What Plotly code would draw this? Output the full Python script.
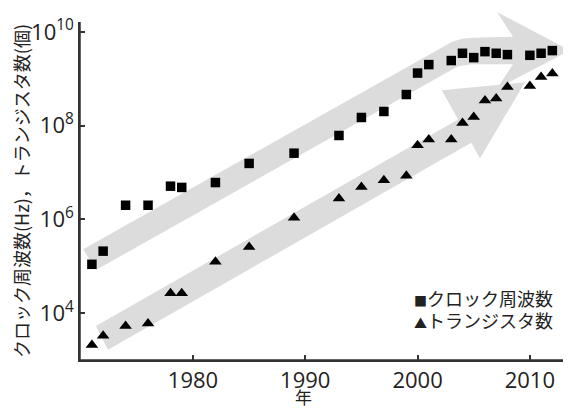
import plotly.graph_objects as go

# ---- data ----
clock_years = [1971, 1972, 1974, 1976, 1978, 1979, 1982, 1985, 1989, 1993, 1995, 1997,
               1999, 2000, 2001, 2003, 2004, 2005, 2006, 2007, 2008, 2010, 2011, 2012]
clock_hz = [1.1e5, 2.1e5, 2.0e6, 2.0e6, 5.1e6, 4.8e6, 6.1e6, 1.56e7, 2.58e7, 6.15e7, 1.49e8, 2.0e8,
            4.6e8, 1.32e9, 2.0e9, 2.44e9, 3.49e9, 2.82e9, 3.78e9, 3.49e9, 3.27e9, 3.16e9, 3.49e9, 3.98e9]

trans_years = [1971, 1972, 1974, 1976, 1978, 1979, 1982, 1985, 1989, 1993, 1995, 1997,
               1999, 2000, 2001, 2003, 2004, 2005, 2006, 2007, 2008, 2010, 2011, 2012]
trans_count = [2.1e3, 3.3e3, 5.3e3, 6.0e3, 2.65e4, 2.65e4, 1.24e5, 2.57e5, 1.08e6, 2.8e6, 4.9e6, 6.8e6,
               8.5e6, 3.83e7, 5.06e7, 5.06e7, 1.14e8, 1.53e8, 3.43e8, 3.78e8, 6.67e8, 7.0e8, 1.09e9, 1.29e9]

x_tick_vals = [1980, 1990, 2000, 2010]
x_tick_text = ["1980", "1990", "2000", "2010"]
y_tick_vals = [1e4, 1e6, 1e8, 1e10]
y_tick_text = ["10<sup>4</sup>", "10<sup>6</sup>", "10<sup>8</sup>", "10<sup>10</sup>"]

series_names = ["クロック周波数", "トランジスタ数"]
y_title = "クロック周波数(Hz)，トランジスタ数(個)"
x_title = "年"

# decorative trend arrows, vertices as (year, log10 value)
arrow_clock = [(1970.23, 5.361), (2003.04, 9.783), (2003.95, 9.851), (2004.84, 9.876),
               (2008.50, 9.898), (2007.07, 10.422), (2013.57, 9.606), (2007.07, 8.790),
               (2008.50, 9.308), (2004.84, 9.308), (2003.60, 9.265), (1971.36, 4.920)]
arrow_trans = [(1971.36, 3.727), (2003.61, 8.132), (2002.15, 8.754), (2009.56, 8.924),
               (2005.56, 7.306), (2004.78, 7.634), (1972.43, 3.216)]

X_RANGE = [1969.94, 2012.95]
Y_RANGE = [3.0, 10.21]  # log10 units

FONT = "Noto Sans CJK JP, Noto Sans, sans-serif"
TICK_FONT = "Open Sans, Noto Sans CJK JP, sans-serif"
INK = "#222222"
AXIS = "#333333"
ARROW_FILL = "#dcdcdc"


def arrow_path(pts):
    out = []
    for x, e in pts:
        px = (x - X_RANGE[0]) / (X_RANGE[1] - X_RANGE[0])
        py = (e - Y_RANGE[0]) / (Y_RANGE[1] - Y_RANGE[0])
        out.append(f"{px:.4f},{py:.4f}")
    return "M " + " L ".join(out) + " Z"


fig = go.Figure()
fig.add_trace(go.Scatter(x=clock_years, y=clock_hz, mode="markers", name=series_names[0],
                         marker=dict(symbol="square", size=9.5, color="#000000"),
                         showlegend=False))
fig.add_trace(go.Scatter(x=trans_years, y=trans_count, mode="markers", name=series_names[1],
                         marker=dict(symbol="triangle-up", size=11, color="#000000"),
                         showlegend=False))

shapes = []
for pts in (arrow_clock, arrow_trans):
    shapes.append(dict(type="path", xref="paper", yref="paper", path=arrow_path(pts),
                       fillcolor=ARROW_FILL, line=dict(width=0), layer="below"))
# axis lines (left and bottom)
shapes.append(dict(type="line", xref="paper", yref="paper", x0=0, x1=0, y0=0, y1=1,
                   line=dict(color=AXIS, width=1.5), layer="above"))
shapes.append(dict(type="line", xref="paper", yref="paper", x0=0, x1=1, y0=0, y1=0,
                   line=dict(color=AXIS, width=1.5), layer="above"))

annotations = [
    dict(xref="paper", yref="paper", x=0.9834, y=0.1849, xanchor="right", yanchor="middle",
         text="<span style='font-size:13px'>■</span>" + series_names[0], showarrow=False,
         font=dict(family=FONT, size=18, color=INK)),
    dict(xref="paper", yref="paper", x=0.9834, y=0.1169, xanchor="right", yanchor="middle",
         text="<span style='font-size:13px'>▲</span>" + series_names[1], showarrow=False,
         font=dict(family=FONT, size=18, color=INK)),
    dict(xref="paper", yref="paper", x=0.4617, y=-0.1080, xanchor="center", yanchor="middle",
         text=x_title, showarrow=False, font=dict(family=FONT, size=17, color=INK)),
]

fig.update_layout(
    width=563, height=400,
    margin=dict(l=72, r=8, t=14, b=48, autoexpand=False),
    paper_bgcolor="white", plot_bgcolor="rgba(0,0,0,0)",
    shapes=shapes, annotations=annotations,
    font=dict(family=FONT, color=INK),
    xaxis=dict(range=X_RANGE, tickmode="array", tickvals=x_tick_vals, ticktext=x_tick_text,
               ticks="inside", ticklen=5, tickwidth=1.5, tickcolor=AXIS, automargin=False,
               showline=True, linecolor=AXIS, linewidth=1.5, showgrid=False, zeroline=False,
               tickfont=dict(family=TICK_FONT, size=22, color=INK)),
    yaxis=dict(type="log", range=Y_RANGE, tickmode="array", tickvals=y_tick_vals, ticktext=y_tick_text,
               ticks="inside", ticklen=5, tickwidth=1.5, tickcolor=AXIS, automargin=False,
               showline=True, linecolor=AXIS, linewidth=1.5, showgrid=False, zeroline=False,
               tickfont=dict(family=TICK_FONT, size=22, color=INK),
               title=dict(text=y_title, font=dict(family=FONT, size=18, color=INK), standoff=4)),
)

fig.write_html("out.html")
